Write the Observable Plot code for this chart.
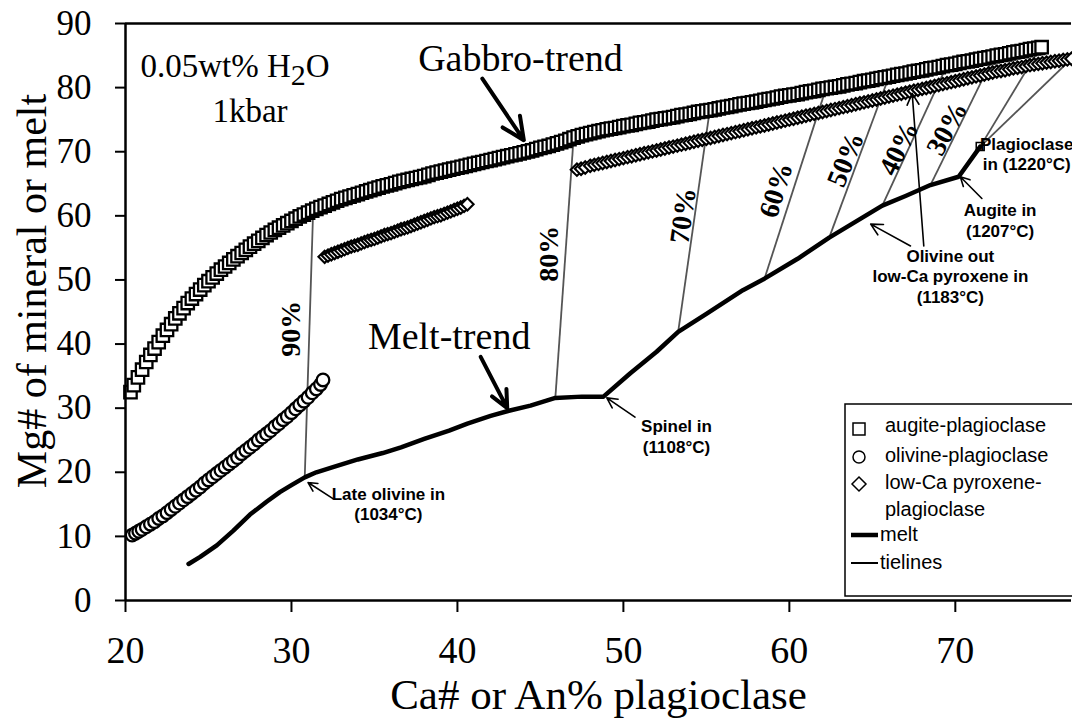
<!DOCTYPE html>
<html><head><meta charset="utf-8">
<script src="https://cdn.jsdelivr.net/npm/d3@7"></script>
<script src="https://cdn.jsdelivr.net/npm/@observablehq/plot@0.6"></script>
<style>
html,body{margin:0;padding:0;background:#fff;}
#chart{position:relative;width:1072px;height:720px;overflow:hidden;}
</style></head><body><div id="chart"></div>
<script>
// ---- axis ticks ----
const xTicks = [20, 30, 40, 50, 60, 70];
const yTicks = [0, 10, 20, 30, 40, 50, 60, 70, 80, 90];

// ---- series: [Ca# or An%, Mg#] ----
const augite = [
[20.3,32.5],[20.5,33.6],[20.75,34.8],[21,36.0],[21.25,37.2],[21.5,38.3],[21.75,39.3],[22,40.3],[22.25,41.3],[22.5,42.2],
[22.75,43.1],[23,44.0],[23.25,44.8],[23.5,45.6],[23.75,46.4],[24,47.1],[24.25,47.8],[24.5,48.5],[24.75,49.2],[25,49.8],
[25.25,50.4],[25.5,51.0],[25.75,51.6],[26,52.1],[26.25,52.65],[26.5,53.2],[26.75,53.7],[27,54.2],[27.25,54.7],[27.5,55.2],
[27.75,55.65],[28,56.1],[28.25,56.55],[28.5,57.0],[28.75,57.4],[29,57.8],[29.25,58.15],[29.5,58.5],[29.75,58.85],[30,59.2],
[30.25,59.55],[30.5,59.9],[30.75,60.2],[31,60.5],[31.25,60.8],[31.5,61.1],[31.75,61.35],[32,61.6],[32.25,61.85],[32.5,62.1],
[32.75,62.35],[33,62.6],[33.25,62.8],[33.5,63.0],[33.75,63.2],[34,63.4],[34.25,63.6],[34.5,63.8],[34.75,64.0],[35,64.2],
[35.25,64.4],[35.5,64.6],[35.75,64.75],[36,64.9],[36.25,65.1],[36.5,65.3],[36.75,65.45],[37,65.6],[37.25,65.75],[37.5,65.9],
[37.75,66.05],[38,66.2],[38.25,66.4],[38.5,66.6],[38.75,66.75],[39,66.9],[39.25,67.05],[39.5,67.2],[39.75,67.35],[40,67.5],
[40.25,67.65],[40.5,67.8],[40.75,67.95],[41,68.1],[41.25,68.25],[41.5,68.4],[41.75,68.55],[42,68.7],[42.25,68.85],[42.5,69.0],
[42.75,69.15],[43,69.3],[43.25,69.45],[43.5,69.6],[43.75,69.75],[44,69.9],[44.25,70.05],[44.5,70.2],[44.75,70.4],[45,70.6],
[45.25,70.75],[45.5,70.9],[45.75,71.1],[46,71.3],[46.25,71.5],[46.5,71.7],[46.75,71.95],[47,72.2],[47.25,72.4],[47.5,72.6],
[47.75,72.75],[48,72.9],[48.25,73.05],[48.5,73.2],[48.75,73.35],[49,73.5],[49.25,73.6],[49.5,73.7],[49.75,73.85],[50,74.0],
[50.25,74.1],[50.5,74.2],[50.75,74.35],[51,74.5],[51.25,74.6],[51.5,74.7],[51.75,74.85],[52,75.0],[52.25,75.1],[52.5,75.2],
[52.75,75.3],[53,75.4],[53.25,75.55],[53.5,75.7],[53.75,75.8],[54,75.9],[54.25,76.05],[54.5,76.2],[54.75,76.3],[55,76.4],
[55.25,76.5],[55.5,76.6],[55.75,76.75],[56,76.9],[56.25,77.0],[56.5,77.1],[56.75,77.25],[57,77.4],[57.25,77.5],[57.5,77.6],
[57.75,77.7],[58,77.8],[58.25,77.95],[58.5,78.1],[58.75,78.2],[59,78.3],[59.25,78.45],[59.5,78.6],[59.75,78.7],[60,78.8],
[60.25,78.9],[60.5,79.0],[60.75,79.15],[61,79.3],[61.25,79.4],[61.5,79.5],[61.75,79.65],[62,79.8],[62.25,79.9],[62.5,80.0],
[62.75,80.1],[63,80.2],[63.25,80.35],[63.5,80.5],[63.75,80.6],[64,80.7],[64.25,80.85],[64.5,81.0],[64.75,81.1],[65,81.2],
[65.25,81.35],[65.5,81.5],[65.75,81.6],[66,81.7],[66.25,81.85],[66.5,82.0],[66.75,82.1],[67,82.2],[67.25,82.35],[67.5,82.5],
[67.75,82.6],[68,82.7],[68.25,82.85],[68.5,83.0],[68.75,83.1],[69,83.2],[69.25,83.35],[69.5,83.5],[69.75,83.6],[70,83.7],
[70.25,83.85],[70.5,84.0],[70.75,84.1],[71,84.2],[71.25,84.35],[71.5,84.5],[71.75,84.6],[72,84.7],[72.25,84.85],[72.5,85.0],
[72.75,85.1],[73,85.2],[73.25,85.35],[73.5,85.5],[73.75,85.6],[74,85.7],[74.25,85.85],[74.5,86.0],[74.75,86.1],[75,86.2],[75.2,86.3]
];
const olivine = [
[20.4,10.2],[20.6,10.5],[20.8,10.8],[21,11.1],[21.25,11.5],[21.5,11.9],[21.75,12.3],[22,12.8],[22.25,13.2],[22.5,13.7],
[22.75,14.2],[23,14.7],[23.25,15.2],[23.5,15.7],[23.75,16.2],[24,16.7],[24.25,17.2],[24.5,17.7],[24.75,18.3],[25,18.8],
[25.25,19.3],[25.5,19.8],[25.75,20.3],[26,20.8],[26.25,21.3],[26.5,21.8],[26.75,22.3],[27,22.9],[27.25,23.4],[27.5,23.9],
[27.75,24.4],[28,25.0],[28.25,25.5],[28.5,26.0],[28.75,26.5],[29,27.1],[29.25,27.6],[29.5,28.2],[29.75,28.7],[30,29.3],
[30.25,29.9],[30.5,30.5],[30.75,31.1],[31,31.7],[31.25,32.4],[31.5,33.0],[31.75,33.7],[31.9,34.4]
];
const lowCaEarly = [
[32.0,53.6],[32.2,53.8],[32.4,54.0],[32.6,54.2],[32.8,54.4],[33.0,54.6],[33.2,54.8],[33.4,55.0],[33.6,55.2],[33.8,55.35],
[34.0,55.5],[34.2,55.7],[34.4,55.9],[34.6,56.1],[34.8,56.25],[35.0,56.4],[35.2,56.6],[35.4,56.8],[35.6,57.0],[35.8,57.15],
[36.0,57.3],[36.2,57.5],[36.4,57.7],[36.6,57.9],[36.8,58.05],[37.0,58.2],[37.2,58.4],[37.4,58.6],[37.6,58.8],[37.8,59.0],
[38.0,59.2],[38.2,59.4],[38.4,59.6],[38.6,59.8],[38.8,59.95],[39.0,60.1],[39.2,60.3],[39.4,60.5],[39.6,60.7],[39.8,60.9],
[40.0,61.1],[40.2,61.3],[40.4,61.55],[40.6,61.8]
];
const lowCaLate = [
[47.2,67.2],[47.45,67.35],[47.7,67.55],[48,67.8],[48.25,67.95],[48.5,68.1],[48.75,68.25],[49,68.4],[49.25,68.55],[49.5,68.7],
[49.75,68.85],[50,69.0],[50.25,69.15],[50.5,69.3],[50.75,69.45],[51,69.6],[51.25,69.75],[51.5,69.9],[51.75,70.05],[52,70.2],
[52.25,70.35],[52.5,70.5],[52.75,70.65],[53,70.8],[53.25,70.95],[53.5,71.1],[53.75,71.25],[54,71.4],[54.25,71.55],[54.5,71.7],
[54.75,71.85],[55,72.0],[55.25,72.15],[55.5,72.3],[55.75,72.45],[56,72.6],[56.25,72.75],[56.5,72.9],[56.75,73.05],[57,73.2],
[57.25,73.35],[57.5,73.5],[57.75,73.65],[58,73.8],[58.25,73.95],[58.5,74.1],[58.75,74.25],[59,74.4],[59.25,74.55],[59.5,74.7],
[59.75,74.85],[60,75.0],[60.25,75.15],[60.5,75.3],[60.75,75.45],[61,75.6],[61.25,75.75],[61.5,75.9],[61.75,76.05],[62,76.2],
[62.25,76.35],[62.5,76.5],[62.75,76.65],[63,76.8],[63.25,76.95],[63.5,77.1],[63.75,77.25],[64,77.4],[64.25,77.55],[64.5,77.7],
[64.75,77.85],[65,78.0],[65.25,78.15],[65.5,78.3],[65.75,78.45],[66,78.6],[66.25,78.75],[66.5,78.9],[66.75,79.05],[67,79.2],
[67.25,79.35],[67.5,79.5],[67.75,79.65],[68,79.8],[68.25,79.95],[68.5,80.1],[68.75,80.25],[69,80.4],[69.25,80.55],[69.5,80.7],
[69.75,80.85],[70,81.0],[70.25,81.15],[70.5,81.3],[70.75,81.45],[71,81.6],[71.25,81.75],[71.5,81.9],[71.75,82.05],[72,82.2],
[72.25,82.35],[72.5,82.5],[72.75,82.6],[73,82.7],[73.25,82.85],[73.5,83.0],[73.75,83.1],[74,83.2],[74.25,83.35],[74.5,83.5],
[74.75,83.6],[75,83.7],[75.25,83.8],[75.5,83.9],[75.75,84.0],[76,84.1],[76.25,84.2],[76.5,84.3],[76.75,84.4],[77,84.5]
];
const melt = [
[23.8,5.7],[24.5,6.8],[25.5,8.6],[26.5,10.9],[27.5,13.4],[28.5,15.4],[29.3,16.9],[30.0,18.0],[30.8,19.2],[31.5,20.0],
[32.5,20.8],[34.0,22.0],[35.5,23.0],[36.6,23.9],[38.0,25.2],[39.5,26.5],[40.6,27.6],[42.0,28.8],[43.1,29.6],[44.4,30.4],
[45.9,31.6],[47.5,31.8],[48.8,31.8],[50.4,35.4],[52.0,38.8],[53.3,41.9],[55.0,44.7],[57.2,48.4],[58.5,50.2],[60.5,53.3],
[62.4,56.6],[64.0,59.1],[65.6,61.6],[67.0,63.1],[68.5,64.8],[70.2,66.1],[71.5,70.8]
];
// tielines: melt end -> mineral end
const tieMelt = [[30.8,19.2],[45.9,31.6],[53.3,41.9],[58.5,50.2],[62.4,56.6],[65.6,61.6],[68.5,64.8],[71.5,70.8],[71.5,70.8]];
const tieMineral = [[31.3,60.3],[47.0,72.2],[55.2,76.4],[62.2,79.8],[66.0,81.7],[69.5,83.5],[72.3,84.8],[75.1,86.2],[77.0,84.5]];

// ---- annotations ----
const tieLabels = ["90%", "80%", "70%", "60%", "50%", "40%", "30%"];
const tieLabelAt = [[30.0,42.4],[45.5,54.1],[53.6,60.0],[59.2,64.0],[63.4,68.8],[66.6,70.5],[69.5,73.6]];
const tieLabelAngle = [-90, -90, -82, -73, -68, -64, -62];

const bigNotes = ["Gabbro-trend", "Melt-trend"];
const bigNoteAt = [[43.8,82.6],[39.5,39.2]];
const bigArrowFrom = [[41.5,81.4],[41.4,38.0]];
const bigArrowTo = [[44.0,71.8],[43.0,30.0]];

const condNotes = ["0.05wt% H2O", "1kbar"];
const condNoteAt = [[26.6,81.6],[27.5,74.6]];

const smallNotes = ["Late olivine in\n(1034°C)", "Spinel in\n(1108°C)", "Olivine out\nlow-Ca pyroxene in\n(1183°C)", "Augite in\n(1207°C)", "Plagioclase\nin (1220°C)"];
const smallNoteAt = [[35.84,18.0],[53.2,28.5],[69.7,55.1],[72.7,62.2],[74.3,72.6]];
const smallArrowFrom = [[32.5,15.9],[50.7,28.6],[67.3,55.3],[68.1,55.3],[71.6,62.7]];
const smallArrowTo = [[31.0,18.4],[49.0,31.6],[64.9,58.7],[67.4,79.1],[70.3,66.1]];

const legendLabels = ["augite-plagioclase", "olivine-plagioclase", "low-Ca pyroxene-", "plagioclase", "melt", "tielines"];

// ---- build ----
const pts = a => a.map(([x, y]) => ({x, y}));
const segs = (a, b) => a.map((p, i) => ({x1: p[0], y1: p[1], x2: b[i][0], y2: b[i][1]}));
const serif = '"Liberation Serif","Times New Roman",Times,serif';
const sans = '"Liberation Sans",Arial,Helvetica,sans-serif';

const tieLabelData = tieLabels.map((t, i) => ({t, x: tieLabelAt[i][0], y: tieLabelAt[i][1], a: tieLabelAngle[i]}));
const bigNoteData = bigNotes.map((t, i) => ({t, x: bigNoteAt[i][0], y: bigNoteAt[i][1]}));
const condNoteData = condNotes.map((t, i) => ({t, x: condNoteAt[i][0], y: condNoteAt[i][1]}));
const smallNoteData = smallNotes.map((t, i) => ({t, x: smallNoteAt[i][0], y: smallNoteAt[i][1]}));
const plagIn = [melt[melt.length - 1]];

const chart = Plot.plot({
  width: 1072, height: 720,
  marginLeft: 125, marginRight: 1, marginTop: 23, marginBottom: 120,
  x: {domain: [20, 77]},
  y: {domain: [0, 90]},
  style: {background: "white", fontFamily: serif, overflow: "visible", color: "black"},
  marks: [
    Plot.link(segs(tieMelt, tieMineral), {x1: "x1", y1: "y1", x2: "x2", y2: "y2", stroke: "#555", strokeWidth: 1.8}),
    Plot.line(pts(melt), {x: "x", y: "y", stroke: "black", strokeWidth: 4.5, curve: "linear"}),
    Plot.dot(pts(olivine), {x: "x", y: "y", symbol: "circle", r: 6.3, fill: "white", stroke: "black", strokeWidth: 2.3}),
    Plot.dot(pts(lowCaEarly), {x: "x", y: "y", symbol: "diamond2", r: 5.6, fill: "white", stroke: "black", strokeWidth: 2.1}),
    Plot.dot(pts(lowCaLate), {x: "x", y: "y", symbol: "diamond2", r: 5.6, fill: "white", stroke: "black", strokeWidth: 2.1}),
    Plot.dot(pts(augite), {x: "x", y: "y", symbol: "square", r: 7, fill: "white", stroke: "black", strokeWidth: 2.3}),
    Plot.dot(pts(plagIn), {x: "x", y: "y", symbol: "square", r: 4.5, fill: "none", stroke: "black", strokeWidth: 1.5}),
    Plot.ruleX([20], {strokeWidth: 2.5}),
    Plot.ruleY([0], {strokeWidth: 2.5}),
    Plot.ruleY([90], {strokeWidth: 2.5}),
    Plot.axisX({ticks: xTicks, tickSize: 12, tickPadding: 24, fontSize: 38, strokeWidth: 2, label: null, tickFormat: d => String(d)}),
    Plot.axisY({ticks: yTicks, tickSize: 10, tickPadding: 24, fontSize: 35, strokeWidth: 2, label: null, tickFormat: d => String(d)}),
    Plot.text(["Ca# or An% plagioclase"], {frameAnchor: "bottom", dy: 108, lineAnchor: "bottom", fontSize: 43, textAnchor: "middle"}),
    Plot.text(["Mg# of mineral or melt"], {frameAnchor: "left", dx: -80, dy: -21, rotate: -90, lineAnchor: "bottom", fontSize: 42, textAnchor: "middle"}),
    Plot.text(tieLabelData, {x: "x", y: "y", text: "t", rotate: "a", fontSize: 28, fontWeight: "bold", lineAnchor: "middle", textAnchor: "middle"}),
    Plot.text(bigNoteData, {x: "x", y: "y", text: "t", fontSize: 38, lineAnchor: "bottom", textAnchor: "middle"}),
    Plot.text(condNoteData, {x: "x", y: "y", text: "t", fontSize: 33, lineAnchor: "bottom", textAnchor: "middle"}),
    Plot.arrow(segs(bigArrowFrom, bigArrowTo), {x1: "x1", y1: "y1", x2: "x2", y2: "y2", stroke: "black", strokeWidth: 4, headLength: 20, headAngle: 50}),
    Plot.arrow(segs(smallArrowFrom, smallArrowTo), {x1: "x1", y1: "y1", x2: "x2", y2: "y2", stroke: "black", strokeWidth: 1.6, headLength: 12, headAngle: 55}),
    Plot.text(smallNoteData, {x: "x", y: "y", text: "t", fontFamily: sans, fontWeight: "bold", fontSize: 17, lineHeight: 1.2, lineAnchor: "top", textAnchor: "middle"})
  ]
});

document.getElementById("chart").appendChild(chart);

// subscript in H2O
d3.select(chart).selectAll("text").filter(function() { return this.textContent === "0.05wt% H2O"; }).each(function() {
  const t = d3.select(this);
  t.text(null);
  t.append("tspan").text("0.05wt% H");
  t.append("tspan").attr("dy", 8).attr("font-size", 30).text("2");
  t.append("tspan").attr("dy", -8).text("O");
});

// legend (inside plot, lower right)
const lg = d3.select(chart).append("g").attr("font-family", sans).attr("font-size", 20).attr("fill", "black").attr("text-anchor", "start");
lg.append("rect").attr("x", 845).attr("y", 404).attr("width", 240).attr("height", 192).attr("fill", "white").attr("stroke", "black").attr("stroke-width", 1.5);
const symG = lg.append("g").attr("fill", "white").attr("stroke", "black").attr("stroke-width", 1.5);
symG.append("rect").attr("x", 853).attr("y", 423).attr("width", 12).attr("height", 12);
symG.append("circle").attr("cx", 859).attr("cy", 457).attr("r", 6);
symG.append("path").attr("d", "M859,477 L866,484 L859,491 L852,484 Z");
lg.append("line").attr("x1", 851).attr("x2", 878).attr("y1", 535).attr("y2", 535).attr("stroke", "black").attr("stroke-width", 4.5);
lg.append("line").attr("x1", 851).attr("x2", 878).attr("y1", 563).attr("y2", 563).attr("stroke", "black").attr("stroke-width", 2);
const lx = [885, 885, 885, 885, 880, 880];
const ly = [432, 462, 489, 516, 541, 569];
legendLabels.forEach((s, i) => lg.append("text").attr("x", lx[i]).attr("y", ly[i]).attr("text-anchor", "start").text(s));
</script>
</body></html>
